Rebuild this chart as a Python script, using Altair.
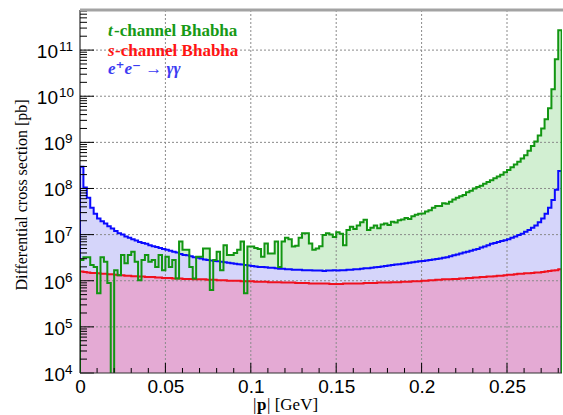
import altair as alt
import pandas as pd

# ---------------- data ----------------
BIN_WIDTH = 0.002          # GeV per histogram bin
X_MAX = 0.2822
Y_MIN, Y_MAX = 1e4, 7.4e11
FLOOR = 1e3                # empty bin (below the axis)

# log10 of differential cross section [pb], one value per bin
green_log10 = [  # t-channel Bhabha
    6.45, 6.51, 6.51, 6.34, 6.30, 5.73, 6.51, 6.41, 5.95, 3.00,
    6.23, 6.12, 6.56, 6.38, 6.56, 6.63, 6.41, 6.01, 6.45, 6.56,
    6.41, 6.45, 6.30, 6.56, 6.23, 6.52, 6.30, 6.45, 6.05, 6.85,
    6.67, 6.67, 6.30, 6.05, 6.52, 6.52, 6.70, 6.70, 5.80, 6.45,
    6.63, 6.23, 6.77, 6.56, 6.56, 6.60, 6.67, 6.85, 5.73, 6.74,
    6.74, 6.71, 6.69, 6.52, 6.81, 6.59, 6.59, 6.85, 6.30, 6.85,
    6.93, 6.90, 6.74, 6.76, 6.93, 7.03, 7.03, 6.81, 6.67, 6.70,
    6.75, 6.99, 7.03, 7.00, 6.95, 7.05, 7.02, 6.77, 7.10, 7.17,
    7.12, 7.20, 7.27, 7.32, 7.10, 7.15, 7.20, 7.14, 7.22, 7.24,
    7.21, 7.28, 7.26, 7.31, 7.33, 7.36, 7.34, 7.40, 7.43, 7.45,
    7.46, 7.50, 7.53, 7.58, 7.62, 7.62, 7.68, 7.67, 7.71, 7.76,
    7.80, 7.83, 7.86, 7.92, 7.95, 8.00, 8.03, 8.06, 8.10, 8.14,
    8.18, 8.22, 8.26, 8.30, 8.35, 8.40, 8.46, 8.52, 8.58, 8.65,
    8.72, 8.82, 8.92, 9.02, 9.15, 9.30, 9.50, 9.74, 10.15, 10.80,
    11.43]

blue_log10 = [  # e+e- -> gamma gamma
    8.47, 8.02, 7.80, 7.58, 7.45, 7.35, 7.29, 7.24, 7.18, 7.13,
    7.08, 7.03, 7.00, 6.96, 6.93, 6.90, 6.87, 6.84, 6.82, 6.80,
    6.77, 6.75, 6.73, 6.71, 6.69, 6.67, 6.65, 6.63, 6.61, 6.58,
    6.56, 6.55, 6.53, 6.51, 6.50, 6.48, 6.46, 6.45, 6.44, 6.43,
    6.42, 6.41, 6.40, 6.39, 6.38, 6.37, 6.36, 6.35, 6.34, 6.33,
    6.32, 6.31, 6.30, 6.30, 6.29, 6.28, 6.28, 6.27, 6.26, 6.26,
    6.25, 6.25, 6.24, 6.24, 6.24, 6.23, 6.23, 6.23, 6.22, 6.22,
    6.22, 6.21, 6.22, 6.22, 6.23, 6.22, 6.23, 6.23, 6.24, 6.24,
    6.25, 6.25, 6.26, 6.27, 6.27, 6.28, 6.29, 6.30, 6.31, 6.32,
    6.33, 6.34, 6.35, 6.36, 6.37, 6.38, 6.39, 6.40, 6.41, 6.42,
    6.43, 6.44, 6.45, 6.46, 6.47, 6.48, 6.50, 6.51, 6.53, 6.55,
    6.57, 6.59, 6.61, 6.63, 6.65, 6.67, 6.69, 6.72, 6.74, 6.77,
    6.80, 6.82, 6.84, 6.86, 6.88, 6.90, 6.93, 6.96, 6.99, 7.02,
    7.06, 7.10, 7.15, 7.20, 7.27, 7.35, 7.45, 7.58, 7.75, 7.97,
    8.38]

red_log10 = [  # s-channel Bhabha
    6.20, 6.19, 6.18, 6.17, 6.17, 6.16, 6.15, 6.15, 6.14, 6.14,
    6.13, 6.12, 6.12, 6.11, 6.11, 6.10, 6.10, 6.09, 6.09, 6.08,
    6.08, 6.08, 6.07, 6.07, 6.06, 6.06, 6.06, 6.05, 6.05, 6.05,
    6.04, 6.04, 6.04, 6.03, 6.03, 6.03, 6.03, 6.02, 6.02, 6.02,
    6.01, 6.01, 6.01, 6.00, 6.00, 6.00, 6.00, 5.99, 5.99, 5.99,
    5.99, 5.98, 5.98, 5.98, 5.98, 5.97, 5.97, 5.97, 5.97, 5.96,
    5.96, 5.96, 5.96, 5.95, 5.95, 5.95, 5.95, 5.94, 5.94, 5.94,
    5.94, 5.94, 5.94, 5.93, 5.93, 5.93, 5.93, 5.94, 5.94, 5.94,
    5.94, 5.94, 5.94, 5.95, 5.95, 5.95, 5.95, 5.96, 5.96, 5.96,
    5.96, 5.97, 5.97, 5.97, 5.98, 5.98, 5.98, 5.99, 5.99, 5.99,
    6.00, 6.00, 6.01, 6.01, 6.02, 6.02, 6.03, 6.03, 6.03, 6.04,
    6.04, 6.05, 6.05, 6.06, 6.06, 6.07, 6.07, 6.08, 6.08, 6.09,
    6.09, 6.10, 6.11, 6.11, 6.12, 6.13, 6.13, 6.14, 6.15, 6.15,
    6.16, 6.16, 6.17, 6.18, 6.18, 6.19, 6.20, 6.21, 6.22, 6.23,
    6.25]

x_label_values = [0, 0.05, 0.1, 0.15, 0.2, 0.25]
decade_exponents = [4, 5, 6, 7, 8, 9, 10, 11]

# ---------------- styling ----------------
W, H = 482, 363
GREEN_LINE, GREEN_FILL, GREEN_TEXT = "#129612", "#d2efd2", "#179a17"
BLUE_LINE, BLUE_FILL, BLUE_TEXT = "#0a0aff", "#d5d5fa", "#3c3cf2"
RED_LINE, RED_FILL, RED_TEXT = "#f0101e", "#e4aad4", "#ff1414"
SANS = "Liberation Sans"
SERIF = "Liberation Serif"

n = len(green_log10)
edges = [round(k * BIN_WIDTH, 6) for k in range(n + 1)]

xs = alt.Scale(domain=[0, X_MAX], nice=False, zero=False)
ys = alt.Scale(type="log", domain=[Y_MIN, Y_MAX], nice=False)
XENC = alt.X("x:Q", scale=xs,
             axis=alt.Axis(values=x_label_values, format="~g", ticks=False, domain=False,
                           grid=False, labelFont=SANS, labelFontSize=19, labelColor="black",
                           labelPadding=4, title=None, labelFlush=False))
YENC = alt.Y("v:Q", scale=ys, axis=None)


def area_df(logs):
    vals = [10.0 ** v for v in logs]
    return pd.DataFrame({"x": edges[:n] + [edges[n]], "v": vals + [vals[-1]],
                         "lo": [Y_MIN] * (n + 1)})


def line_df(logs):
    vals = [10.0 ** v for v in logs]
    xs_ = [0.0] + edges[:n] + [edges[n], edges[n]]
    vs_ = [FLOOR] + vals + [vals[-1], FLOOR]
    return pd.DataFrame({"x": xs_, "v": vs_, "i": list(range(len(xs_)))})


def area(logs, color):
    return alt.Chart(area_df(logs)).mark_area(
        interpolate="step-after", clip=True, color=color, opacity=1
    ).encode(x=XENC, y=YENC, y2=alt.Y2("lo:Q"))


def line(logs, color):
    return alt.Chart(line_df(logs)).mark_line(
        interpolate="step-after", clip=True, color=color, strokeWidth=2
    ).encode(x=XENC, y=YENC, order=alt.Order("i:Q"))


# grid
xgrid = alt.Chart(pd.DataFrame({"x": x_label_values[1:]})).mark_rule(
    color="#8a8a8a", strokeDash=[2, 2], strokeWidth=1
).encode(x=XENC, y=alt.value(0), y2=alt.value(H))
ygrid = alt.Chart(pd.DataFrame({"v": [10.0 ** e for e in decade_exponents[1:]]})).mark_rule(
    color="#8a8a8a", strokeDash=[2, 2], strokeWidth=1
).encode(y=YENC, x=alt.value(0), x2=alt.value(W))

# ticks (inside the frame)
y_minor = [m * 10.0 ** e for e in decade_exponents for m in range(2, 10) if m * 10.0 ** e < Y_MAX]
x_minor = [round(0.01 * k, 2) for k in range(1, 29) if k % 5]
ymaj = alt.Chart(pd.DataFrame({"v": [10.0 ** e for e in decade_exponents]})).mark_rule(
    color="black").encode(y=YENC, x=alt.value(0), x2=alt.value(14))
ymin_t = alt.Chart(pd.DataFrame({"v": y_minor})).mark_rule(
    color="black").encode(y=YENC, x=alt.value(0), x2=alt.value(7))
xmaj = alt.Chart(pd.DataFrame({"x": x_label_values[1:]})).mark_rule(
    color="black").encode(x=XENC, y=alt.value(H), y2=alt.value(H - 10))
xmin_t = alt.Chart(pd.DataFrame({"x": x_minor})).mark_rule(
    color="black").encode(x=XENC, y=alt.value(H), y2=alt.value(H - 5))

# frame
left_line = alt.Chart(pd.DataFrame({"a": [0]})).mark_rule(color="black", strokeWidth=1).encode(
    x=alt.value(0), y=alt.value(0), y2=alt.value(H))
bottom_line = alt.Chart(pd.DataFrame({"a": [0]})).mark_rule(color="#333333", strokeWidth=1).encode(
    x=alt.value(0), x2=alt.value(W), y=alt.value(H))
top_line = alt.Chart(pd.DataFrame({"a": [0]})).mark_rule(color="#a3a3a3", strokeWidth=3).encode(
    x=alt.value(0), x2=alt.value(W + 1), y=alt.value(0))

# y tick labels: "10" with superscript exponent
dec_df = pd.DataFrame({"v": [10.0 ** e for e in decade_exponents],
                       "e": decade_exponents,
                       "es": [str(e) for e in decade_exponents],
                       "base": ["10"] * len(decade_exponents)})
ylabels = []
for cond, xb, xe in [("datum.e < 10", -15, -15), ("datum.e >= 10", -22, -21)]:
    base = alt.Chart(dec_df).transform_filter(cond)
    ylabels.append(base.mark_text(align="right", baseline="alphabetic", dy=8, font=SANS,
                                  fontSize=19, color="black").encode(
        y=YENC, x=alt.value(xb), text="base:N"))
    ylabels.append(base.mark_text(align="left", baseline="alphabetic", dy=1, font=SANS,
                                  fontSize=13.5, color="black").encode(
        y=YENC, x=alt.value(xe), text="es:N"))


def txt(s, x, y, size, color="black", font=SERIF, style="normal", weight="normal",
        align="left", angle=0):
    kw = dict(align=align, baseline="alphabetic", font=font, fontSize=size, color=color,
              fontStyle=style, fontWeight=weight)
    if angle:
        kw["angle"] = angle
        kw["baseline"] = "middle"
    return alt.Chart(pd.DataFrame({"t": [s]})).mark_text(**kw).encode(
        x=alt.value(x), y=alt.value(y), text="t:N")


texts = [
    # legend
    txt("t", 28, 26, 17, GREEN_TEXT, style="italic", weight="bold"),
    txt("-channel Bhabha", 34, 26, 17, GREEN_TEXT, weight="bold"),
    txt("s", 28, 46, 17, RED_TEXT, style="italic", weight="bold"),
    txt("-channel Bhabha", 35, 46, 17, RED_TEXT, weight="bold"),
    txt("e\u207ae\u207b \u2192 \u03b3\u03b3", 28, 64, 17, BLUE_TEXT,
        font="Liberation Serif, DejaVu Serif", style="italic", weight="bold"),
    # axis titles
    txt("|", 173, 400, 17),
    txt("p", 177, 400, 17, weight="bold"),
    txt("| [GeV]", 187, 400, 17),
    txt("Differential cross section [pb]", -58, 185, 16, angle=270, align="center"),
]

layers = [
    area(green_log10, GREEN_FILL),
    area(blue_log10, BLUE_FILL),
    area(red_log10, RED_FILL),
    xgrid, ygrid,
    line(red_log10, RED_LINE),
    line(blue_log10, BLUE_LINE),
    line(green_log10, GREEN_LINE),
    ymaj, ymin_t, xmaj, xmin_t,
    left_line, bottom_line, top_line,
] + ylabels + texts

chart = alt.layer(*layers).properties(
    width=W, height=H,
    padding={"left": 80, "top": 10, "right": 1, "bottom": 42},
    autosize=alt.AutoSizeParams(type="none"),
).configure_view(stroke="transparent")

chart.save("out.html", embed_options={"renderer": "svg", "actions": False})
